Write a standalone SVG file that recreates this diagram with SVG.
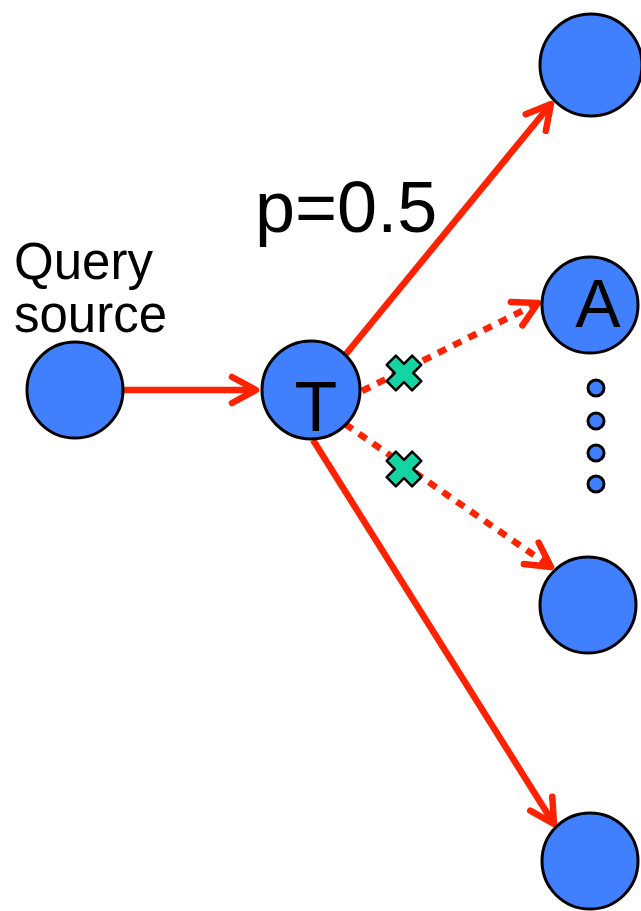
<svg xmlns="http://www.w3.org/2000/svg" width="641" height="911" viewBox="0 0 641 911">
<defs>
<style>
.node{fill:#4080ff;stroke:#000;stroke-width:3}
.edge{fill:none;stroke:#ff2200;stroke-width:6.5}
.dot{stroke-dasharray:9 8}
.lbl{font-family:"Liberation Sans",Arial,sans-serif;fill:#000}
</style>
<marker id="ah" markerUnits="userSpaceOnUse" viewBox="-30 -20 40 40" refX="0" refY="0" markerWidth="40" markerHeight="40" orient="auto" overflow="visible">
<path d="M-24,-13 L0,0 L-24,13" fill="none" stroke="#ff2200" stroke-width="6.5" stroke-linecap="round" stroke-linejoin="round"/>
</marker>
<g id="xmark">
<path transform="rotate(45)" d="M-6.5,-18 L6.5,-18 L6.5,-6.5 L18,-6.5 L18,6.5 L6.5,6.5 L6.5,18 L-6.5,18 L-6.5,6.5 L-18,6.5 L-18,-6.5 L-6.5,-6.5 Z" fill="#14d4a4" stroke="#000" stroke-width="2.5" stroke-linejoin="round"/>
</g>
</defs>
<rect width="641" height="911" fill="#fff"/>
<g id="connectors">
<path class="edge" d="M123,390 L256,390" marker-end="url(#ah)"/>
<path class="edge" d="M346,354 L551,104" marker-end="url(#ah)"/>
<path class="edge dot" d="M362,391 L538,303" marker-end="url(#ah)"/>
<path class="edge dot" d="M345,424 L551,567" marker-end="url(#ah)"/>
<path class="edge" d="M313,440 L554,824" marker-end="url(#ah)"/>
<use href="#xmark" x="404" y="373"/>
<use href="#xmark" x="404" y="469"/>
</g>
<g id="label-p">
<text class="lbl" x="255" y="232" font-size="72">p=0.5</text>
</g>
<g id="label-query">
<text class="lbl" x="14" y="279" font-size="51">Query</text>
<text class="lbl" x="14" y="332" font-size="51">source</text>
</g>
<g id="node-source"><circle class="node" cx="75" cy="390" r="48"/></g>
<g id="node-T"><circle class="node" cx="311" cy="390" r="49"/><text class="lbl" x="316" y="431" font-size="70" text-anchor="middle">T</text></g>
<g id="node-top"><circle class="node" cx="591" cy="65" r="51"/></g>
<g id="node-A"><circle class="node" cx="590" cy="305" r="48"/><text class="lbl" x="598" y="327" font-size="68" text-anchor="middle">A</text></g>
<g id="node-dots">
<circle class="node" cx="596" cy="388" r="8" stroke-width="2.5"/>
<circle class="node" cx="596" cy="421" r="8" stroke-width="2.5"/>
<circle class="node" cx="596" cy="453" r="8" stroke-width="2.5"/>
<circle class="node" cx="596" cy="484" r="8" stroke-width="2.5"/>
</g>
<g id="node-3"><circle class="node" cx="588" cy="605" r="48"/></g>
<g id="node-bottom"><circle class="node" cx="590" cy="861" r="48"/></g>
</svg>
